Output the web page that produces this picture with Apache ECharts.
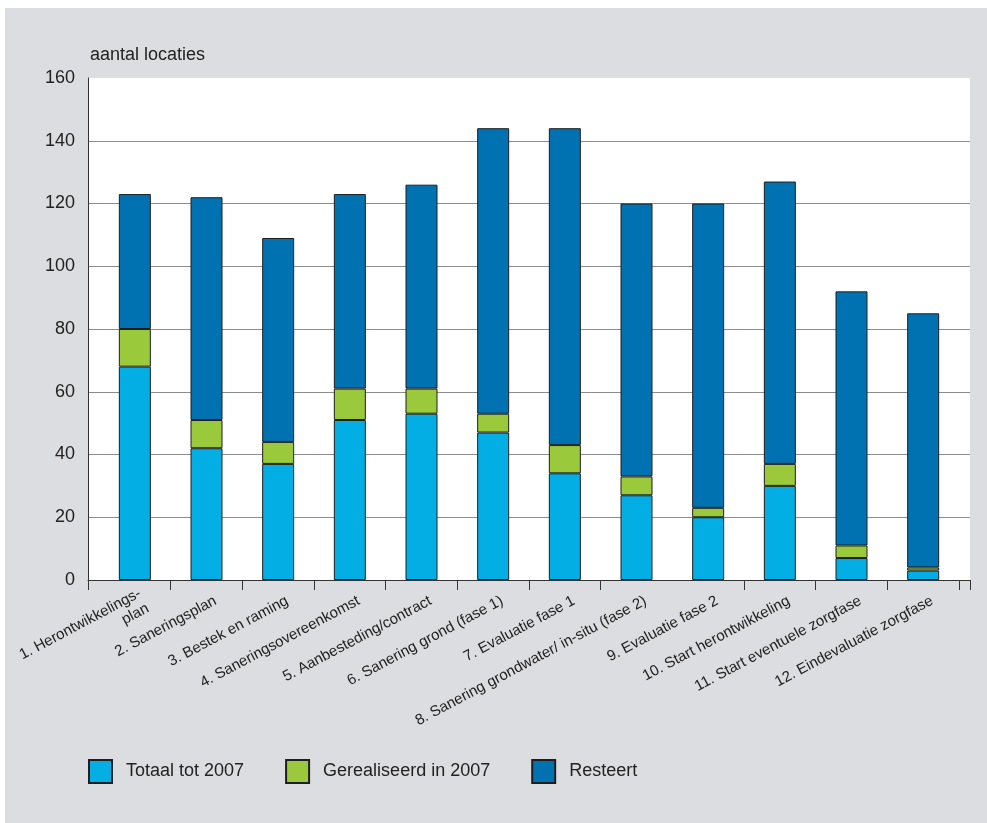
<!DOCTYPE html>
<html>
<head>
<meta charset="utf-8">
<script src="https://cdn.jsdelivr.net/npm/echarts@6/dist/echarts.min.js"></script>
<style>
  html, body { margin: 0; padding: 0; background: #ffffff; }
  #chart { position: absolute; left: 5px; top: 8px; width: 982px; height: 815px; background: #dcdde0; }
</style>
</head>
<body>
<div id="chart"></div>
<script>
const categories = [
  '1. Herontwikkelings-\nplan',
  '2. Saneringsplan',
  '3. Bestek en raming',
  '4. Saneringsovereenkomst',
  '5. Aanbesteding/contract',
  '6. Sanering grond (fase 1)',
  '7. Evaluatie fase 1',
  '8. Sanering grondwater/ in-situ (fase 2)',
  '9. Evaluatie fase 2',
  '10. Start herontwikkeling',
  '11. Start eventuele zorgfase',
  '12. Eindevaluatie zorgfase'
];
const totaalTot2007 = [68, 42, 37, 51, 53, 47, 34, 27, 20, 30, 7, 3];
const gerealiseerdIn2007 = [12, 9, 7, 10, 8, 6, 9, 6, 3, 7, 4, 1];
const resteert = [43, 71, 65, 62, 65, 91, 101, 87, 97, 90, 81, 81];
const yTicks = { min: 0, max: 160, interval: 20 };

const FONT = "'Liberation Sans', Arial, sans-serif";
const chart = echarts.init(document.getElementById('chart'), null, { renderer: 'canvas' });

const barBorder = { borderColor: '#1e1e1e', borderWidth: 1 };
const hiddenTicks = [0, 8, 12];

chart.setOption({
  animation: false,
  textStyle: { fontFamily: FONT },
  title: {
    text: 'aantal locaties',
    left: 80, top: 33,
    textStyle: { fontSize: 18, fontWeight: 'normal', color: '#222', fontFamily: FONT }
  },
  legend: {
    left: 78, top: 746,
    itemWidth: 23, itemHeight: 23, itemGap: 41,
    icon: 'rect',
    textStyle: { fontSize: 18, color: '#222', fontFamily: FONT, padding: [0, 0, 0, 9] },
    data: ['Totaal tot 2007', 'Gerealiseerd in 2007', 'Resteert']
  },
  grid: [
    { left: 83, right: 17, top: 70, bottom: 243, show: true, backgroundColor: '#ffffff', borderWidth: 0, outerBoundsMode: 'none', containLabel: false },
    { left: 94, right: 28, top: 70, bottom: 243, outerBoundsMode: 'none', containLabel: false },
    { left: 103, right: 19, top: 70, bottom: 243, outerBoundsMode: 'none', containLabel: false }
  ],
  xAxis: [
    {
      gridIndex: 0, type: 'value', min: 0, max: 1, interval: 1,
      axisLine: { show: true, lineStyle: { color: '#333', width: 1 } },
      axisTick: { show: true, length: 10, lineStyle: { color: '#333' } },
      axisLabel: { show: false },
      splitLine: { show: false }
    },
    {
      gridIndex: 1, type: 'category', data: categories,
      axisLine: { show: false },
      axisTick: { show: true, length: 10, alignWithLabel: false, lineStyle: { color: '#333' },
        interval: function (idx) { return hiddenTicks.indexOf(idx) < 0; } },
      axisLabel: { show: false },
      splitLine: { show: false }
    },
    {
      gridIndex: 2, type: 'category', data: categories,
      axisLine: { show: false },
      axisTick: { show: false },
      axisLabel: { interval: 0, rotate: 28, fontSize: 15, color: '#222', margin: 20, fontFamily: FONT, lineHeight: 17 },
      splitLine: { show: false }
    }
  ],
  yAxis: [
    {
      gridIndex: 0, type: 'value', min: yTicks.min, max: yTicks.max, interval: yTicks.interval,
      axisLine: { show: true, lineStyle: { color: '#333', width: 1 } },
      axisTick: { show: false },
      axisLabel: { fontSize: 18, color: '#222', margin: 13, fontFamily: FONT },
      splitLine: { show: true, lineStyle: { color: ['#8c8c8c', '#8c8c8c', '#8c8c8c', '#8c8c8c', '#8c8c8c', '#8c8c8c', '#8c8c8c', '#8c8c8c', 'rgba(0,0,0,0)'], width: 1 } }
    },
    {
      gridIndex: 1, type: 'value', min: yTicks.min, max: yTicks.max, interval: yTicks.interval,
      show: false
    },
    {
      gridIndex: 2, type: 'value', min: yTicks.min, max: yTicks.max, interval: yTicks.interval,
      show: false
    }
  ],
  series: [
    {
      name: 'Totaal tot 2007', type: 'bar', stack: 'total', xAxisIndex: 1, yAxisIndex: 1,
      barWidth: 32, data: totaalTot2007,
      itemStyle: Object.assign({ color: '#03aee4' }, barBorder)
    },
    {
      name: 'Gerealiseerd in 2007', type: 'bar', stack: 'total', xAxisIndex: 1, yAxisIndex: 1,
      barWidth: 32, data: gerealiseerdIn2007,
      itemStyle: Object.assign({ color: '#9ac93b' }, barBorder)
    },
    {
      name: 'Resteert', type: 'bar', stack: 'total', xAxisIndex: 1, yAxisIndex: 1,
      barWidth: 32, data: resteert,
      itemStyle: Object.assign({ color: '#0072b1' }, barBorder)
    }
  ]
});
</script>
</body>
</html>
